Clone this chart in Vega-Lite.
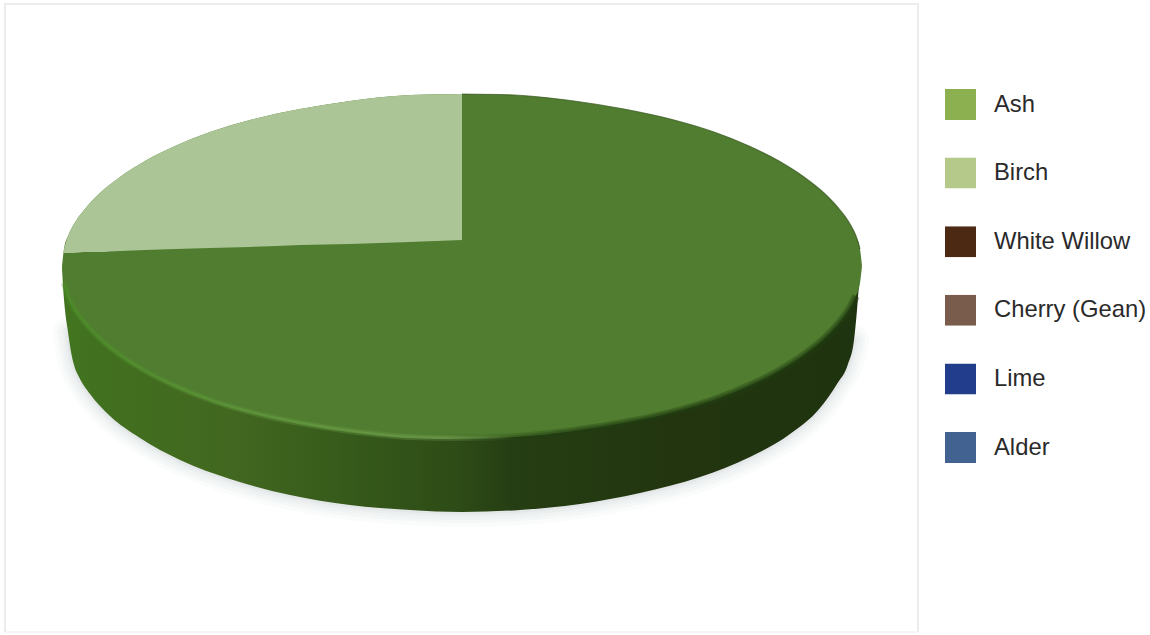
{
  "$schema": "https://vega.github.io/schema/vega-lite/v6.json",
  "width": 1150,
  "height": 635,
  "padding": 0,
  "autosize": {"type": "none"},
  "background": "#ffffff",
  "config": {"view": {"stroke": null}},
  "datasets": {
    "species": [
      {"species": "Ash", "share": 75},
      {"species": "Birch", "share": 25},
      {"species": "White Willow", "share": 0},
      {"species": "Cherry (Gean)", "share": 0},
      {"species": "Lime", "share": 0},
      {"species": "Alder", "share": 0}
    ],
    "panel_edge": [
      {"seq": 1, "x": -457, "upper": -392},
      {"seq": 2, "x": -457, "upper": 236},
      {"seq": 3, "x": 456, "upper": 236},
      {"seq": 4, "x": 456, "upper": -392}
    ],
    "panel_base": [
      {"x": -457, "upper": -392},
      {"x": 456, "upper": -392}
    ],
    "disc_top": [
      {"x": -400, "upper": -26, "lower": -26},
      {"x": -398, "upper": -9, "lower": -43},
      {"x": -394, "upper": 4, "lower": -56},
      {"x": -388, "upper": 16, "lower": -68},
      {"x": -378, "upper": 30, "lower": -82},
      {"x": -362, "upper": 47, "lower": -99},
      {"x": -342, "upper": 63, "lower": -115},
      {"x": -317, "upper": 79, "lower": -131},
      {"x": -287, "upper": 94, "lower": -146},
      {"x": -252, "upper": 108, "lower": -160},
      {"x": -212, "upper": 120, "lower": -172},
      {"x": -162, "upper": 131, "lower": -183},
      {"x": -112, "upper": 139, "lower": -191},
      {"x": -52, "upper": 145, "lower": -197},
      {"x": 0, "upper": 146, "lower": -198},
      {"x": 52, "upper": 145, "lower": -197},
      {"x": 112, "upper": 139, "lower": -191},
      {"x": 162, "upper": 131, "lower": -183},
      {"x": 212, "upper": 120, "lower": -172},
      {"x": 252, "upper": 108, "lower": -160},
      {"x": 287, "upper": 94, "lower": -146},
      {"x": 317, "upper": 79, "lower": -131},
      {"x": 342, "upper": 63, "lower": -115},
      {"x": 362, "upper": 47, "lower": -99},
      {"x": 378, "upper": 30, "lower": -82},
      {"x": 388, "upper": 16, "lower": -68},
      {"x": 394, "upper": 4, "lower": -56},
      {"x": 398, "upper": -9, "lower": -43},
      {"x": 400, "upper": -26, "lower": -26}
    ],
    "birch_slice": [
      {"x": -399, "upper": -13, "lower": -13},
      {"x": -394, "upper": 4, "lower": -13},
      {"x": -388, "upper": 16, "lower": -13},
      {"x": -378, "upper": 30, "lower": -12},
      {"x": -362, "upper": 47, "lower": -12},
      {"x": -342, "upper": 63, "lower": -11},
      {"x": -317, "upper": 79, "lower": -10},
      {"x": -287, "upper": 94, "lower": -9},
      {"x": -252, "upper": 108, "lower": -8},
      {"x": -212, "upper": 120, "lower": -7},
      {"x": -162, "upper": 131, "lower": -5},
      {"x": -112, "upper": 139, "lower": -4},
      {"x": -52, "upper": 145, "lower": -2},
      {"x": 0, "upper": 146, "lower": 0}
    ],
    "disc_side": [
      {"x": -400, "upper": -26, "lower": -26},
      {"x": -399, "upper": -26, "lower": -45},
      {"x": -397, "upper": -26, "lower": -70},
      {"x": -394, "upper": -26, "lower": -92},
      {"x": -391, "upper": -26, "lower": -112},
      {"x": -388, "upper": -26, "lower": -125},
      {"x": -383, "upper": -26, "lower": -137},
      {"x": -372, "upper": -26, "lower": -154},
      {"x": -352, "upper": -26, "lower": -176},
      {"x": -322, "upper": -26, "lower": -198},
      {"x": -282, "upper": -26, "lower": -220},
      {"x": -232, "upper": -26, "lower": -239},
      {"x": -172, "upper": -26, "lower": -255},
      {"x": -112, "upper": -26, "lower": -265},
      {"x": -52, "upper": -26, "lower": -270},
      {"x": 0, "upper": -26, "lower": -272},
      {"x": 58, "upper": -26, "lower": -270},
      {"x": 118, "upper": -26, "lower": -264},
      {"x": 178, "upper": -26, "lower": -253},
      {"x": 238, "upper": -26, "lower": -237},
      {"x": 288, "upper": -26, "lower": -217},
      {"x": 328, "upper": -26, "lower": -194},
      {"x": 358, "upper": -26, "lower": -168},
      {"x": 375, "upper": -26, "lower": -144},
      {"x": 386, "upper": -26, "lower": -124},
      {"x": 392, "upper": -26, "lower": -100},
      {"x": 395, "upper": -26, "lower": -70},
      {"x": 397, "upper": -26, "lower": -45},
      {"x": 399, "upper": -26, "lower": -26}
    ]
  },
  "layer": [
    {
      "data": {"name": "panel_base"},
      "mark": {"type": "line", "color": "#f6f6f6", "strokeWidth": 2},
      "encoding": {
        "x": {"field": "x", "type": "quantitative", "scale": {"domain": [-462, 688], "nice": false, "zero": false}, "axis": null},
        "y": {"field": "upper", "type": "quantitative", "scale": {"domain": [-395, 240], "nice": false, "zero": false}, "axis": null}
      }
    },
    {
      "data": {"name": "panel_edge"},
      "mark": {"type": "line", "color": "#ececec", "strokeWidth": 2},
      "encoding": {
        "x": {"field": "x", "type": "quantitative"},
        "y": {"field": "upper", "type": "quantitative"},
        "order": {"field": "seq", "type": "quantitative"}
      }
    },
    {
      "data": {"name": "disc_side"},
      "transform": [{"filter": "datum.lower < -80"}],
      "mark": {"type": "line", "color": "#6f7378", "strokeWidth": 30, "opacity": 0.03, "strokeJoin": "round", "strokeCap": "round", "interpolate": "monotone"},
      "encoding": {"x": {"field": "x", "type": "quantitative"}, "y": {"field": "lower", "type": "quantitative"}}
    },
    {
      "data": {"name": "disc_side"},
      "transform": [{"filter": "datum.lower < -80"}],
      "mark": {"type": "line", "color": "#6f7378", "strokeWidth": 22, "opacity": 0.03, "strokeJoin": "round", "strokeCap": "round", "interpolate": "monotone"},
      "encoding": {"x": {"field": "x", "type": "quantitative"}, "y": {"field": "lower", "type": "quantitative"}}
    },
    {
      "data": {"name": "disc_side"},
      "transform": [{"filter": "datum.lower < -80"}],
      "mark": {"type": "line", "color": "#6f7378", "strokeWidth": 16, "opacity": 0.03, "strokeJoin": "round", "strokeCap": "round", "interpolate": "monotone"},
      "encoding": {"x": {"field": "x", "type": "quantitative"}, "y": {"field": "lower", "type": "quantitative"}}
    },
    {
      "data": {"name": "disc_side"},
      "transform": [{"filter": "datum.lower < -80"}],
      "mark": {"type": "line", "color": "#6f7378", "strokeWidth": 10, "opacity": 0.04, "strokeJoin": "round", "strokeCap": "round", "interpolate": "monotone"},
      "encoding": {"x": {"field": "x", "type": "quantitative"}, "y": {"field": "lower", "type": "quantitative"}}
    },
    {
      "data": {"name": "disc_side"},
      "transform": [{"filter": "datum.lower < -80"}],
      "mark": {"type": "line", "color": "#6f7378", "strokeWidth": 5, "opacity": 0.05, "strokeJoin": "round", "strokeCap": "round", "interpolate": "monotone"},
      "encoding": {"x": {"field": "x", "type": "quantitative"}, "y": {"field": "lower", "type": "quantitative"}}
    },
    {
      "data": {"name": "disc_side"},
      "mark": {
        "type": "area",
        "interpolate": "monotone",
        "fill": {
          "gradient": "linear", "x1": 0, "y1": 0, "x2": 1, "y2": 0,
          "stops": [
            {"offset": 0, "color": "#437520"},
            {"offset": 0.05, "color": "#41701f"},
            {"offset": 0.215, "color": "#426720"},
            {"offset": 0.34, "color": "#375c1b"},
            {"offset": 0.5, "color": "#2d4b16"},
            {"offset": 0.56, "color": "#263e13"},
            {"offset": 0.76, "color": "#22350f"},
            {"offset": 1, "color": "#1e330f"}
          ]
        }
      },
      "encoding": {
        "x": {"field": "x", "type": "quantitative"},
        "y": {"field": "upper", "type": "quantitative"},
        "y2": {"field": "lower"}
      }
    },
    {
      "data": {"name": "disc_top"},
      "mark": {"type": "area", "interpolate": "monotone", "fill": "#507d2f"},
      "encoding": {
        "x": {"field": "x", "type": "quantitative"},
        "y": {"field": "upper", "type": "quantitative"},
        "y2": {"field": "lower"}
      }
    },
    {
      "data": {"name": "disc_top"},
      "transform": [{"filter": "datum.x >= 0 && datum.x <= 398"}],
      "mark": {"type": "line", "color": "#37551f", "strokeWidth": 1.2, "opacity": 0.7, "interpolate": "monotone"},
      "encoding": {"x": {"field": "x", "type": "quantitative"}, "y": {"field": "upper", "type": "quantitative"}}
    },
    {
      "data": {"name": "disc_top"},
      "transform": [{"filter": "datum.x >= -52 && datum.x <= 394"}],
      "mark": {
        "type": "line",
        "strokeWidth": 8,
        "opacity": 0.35,
        "interpolate": "monotone",
        "stroke": {
          "gradient": "linear", "x1": 0, "y1": 0, "x2": 1, "y2": 0,
          "stops": [
            {"offset": 0, "color": "rgba(32,60,16,0)"},
            {"offset": 0.4, "color": "rgba(32,60,16,1)"},
            {"offset": 1, "color": "rgba(32,60,16,1)"}
          ]
        }
      },
      "encoding": {"x": {"field": "x", "type": "quantitative"}, "y": {"field": "lower", "type": "quantitative"}}
    },
    {
      "data": {"name": "disc_top"},
      "transform": [{"filter": "datum.x >= -52 && datum.x <= 394"}],
      "mark": {
        "type": "line",
        "strokeWidth": 4,
        "opacity": 0.5,
        "interpolate": "monotone",
        "stroke": {
          "gradient": "linear", "x1": 0, "y1": 0, "x2": 1, "y2": 0,
          "stops": [
            {"offset": 0, "color": "rgba(32,60,16,0)"},
            {"offset": 0.4, "color": "rgba(32,60,16,1)"},
            {"offset": 1, "color": "rgba(32,60,16,1)"}
          ]
        }
      },
      "encoding": {"x": {"field": "x", "type": "quantitative"}, "y": {"field": "lower", "type": "quantitative"}}
    },
    {
      "data": {"name": "disc_top"},
      "transform": [{"filter": "datum.x <= 52 && datum.x > -400"}],
      "mark": {
        "type": "line",
        "strokeWidth": 6,
        "opacity": 0.35,
        "interpolate": "monotone",
        "stroke": {
          "gradient": "linear", "x1": 0, "y1": 0, "x2": 1, "y2": 0,
          "stops": [
            {"offset": 0, "color": "rgba(76,140,40,1)"},
            {"offset": 0.5, "color": "rgba(101,154,64,1)"},
            {"offset": 0.85, "color": "rgba(109,154,76,1)"},
            {"offset": 1, "color": "rgba(109,154,76,0)"}
          ]
        }
      },
      "encoding": {"x": {"field": "x", "type": "quantitative"}, "y": {"field": "lower", "type": "quantitative"}}
    },
    {
      "data": {"name": "disc_top"},
      "transform": [{"filter": "datum.x <= 52 && datum.x > -400"}],
      "mark": {
        "type": "line",
        "strokeWidth": 2.5,
        "opacity": 0.75,
        "interpolate": "monotone",
        "stroke": {
          "gradient": "linear", "x1": 0, "y1": 0, "x2": 1, "y2": 0,
          "stops": [
            {"offset": 0, "color": "rgba(76,140,40,1)"},
            {"offset": 0.5, "color": "rgba(101,154,64,1)"},
            {"offset": 0.85, "color": "rgba(109,154,76,1)"},
            {"offset": 1, "color": "rgba(109,154,76,0)"}
          ]
        }
      },
      "encoding": {"x": {"field": "x", "type": "quantitative"}, "y": {"field": "lower", "type": "quantitative"}}
    },
    {
      "data": {"name": "birch_slice"},
      "mark": {"type": "area", "interpolate": "monotone", "fill": "#abc597"},
      "encoding": {
        "x": {"field": "x", "type": "quantitative"},
        "y": {"field": "upper", "type": "quantitative"},
        "y2": {"field": "lower"}
      }
    },
    {
      "data": {"name": "species"},
      "mark": {"type": "point", "filled": true, "shape": "square", "size": 0, "opacity": 0},
      "encoding": {
        "color": {
          "field": "species",
          "type": "nominal",
          "scale": {
            "domain": ["Ash", "Birch", "White Willow", "Cherry (Gean)", "Lime", "Alder"],
            "range": ["#8cb04f", "#b5c98a", "#4b2913", "#7a5c4c", "#223d8c", "#426291"]
          },
          "legend": {
            "orient": "none",
            "legendX": 945,
            "legendY": 89,
            "title": null,
            "padding": 0,
            "symbolType": "square",
            "symbolSize": 961,
            "symbolOpacity": 1,
            "symbolStrokeWidth": 0,
            "clipHeight": 31,
            "rowPadding": 37.6,
            "labelOffset": 18,
            "labelFont": "Liberation Sans",
            "labelFontSize": 23.8,
            "labelColor": "#2b2a2b",
            "labelLimit": 220
          }
        }
      }
    }
  ]
}
